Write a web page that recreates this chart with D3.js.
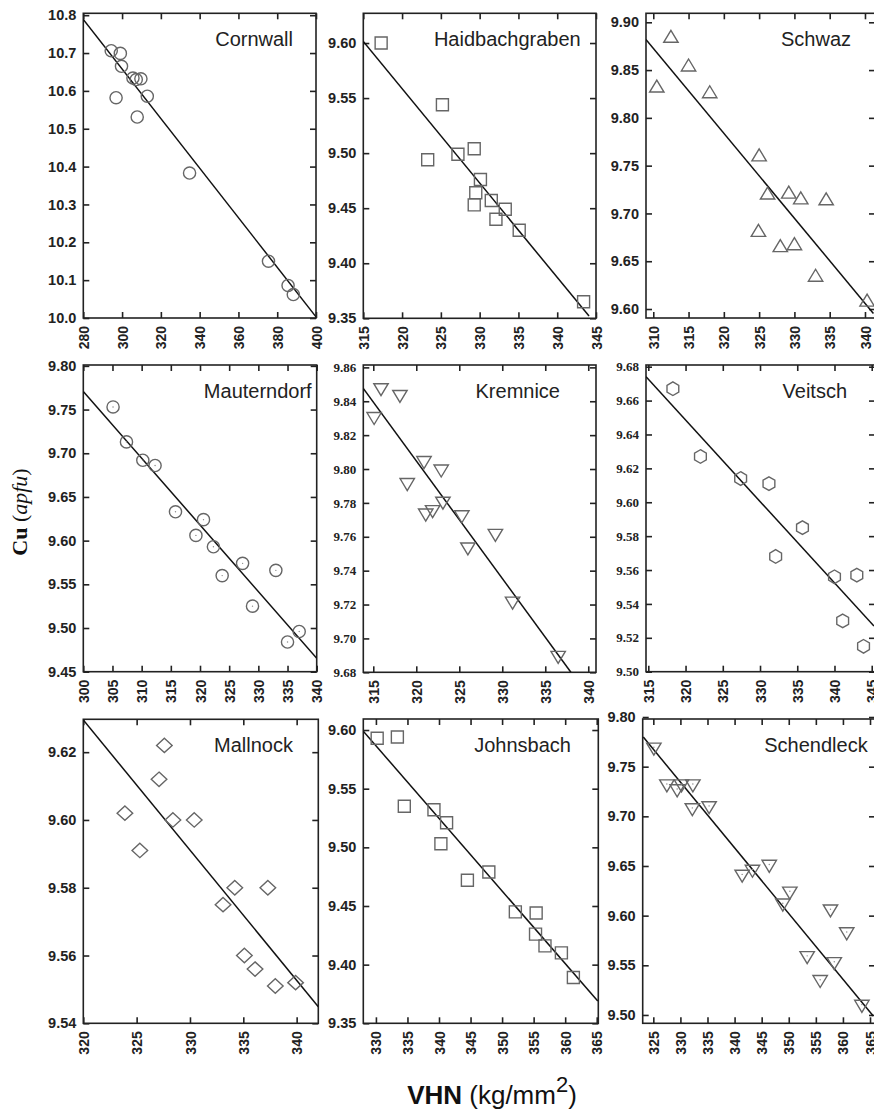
<!DOCTYPE html>
<html>
<head>
<meta charset="utf-8">
<script src="https://cdn.jsdelivr.net/npm/d3@7"></script>
<style>
  body { margin: 0; background: #fff; }
  svg { display: block; }
</style>
</head>
<body>
<svg id="chart"></svg>
<script>
// one panel per locality, read left to right, top to bottom
const sites = ["Cornwall", "Haidbachgraben", "Schwaz", "Mauterndorf", "Kremnice", "Veitsch", "Mallnock", "Johnsbach", "Schendleck"];

const cornwallVHN = [294.4, 299.1, 299.7, 296.9, 305.6, 307.3, 309.7, 313.0, 307.8, 334.8, 375.5, 385.6, 388.3];
const cornwallCu  = [10.706, 10.699, 10.665, 10.582, 10.634, 10.630, 10.632, 10.586, 10.531, 10.383, 10.150, 10.086, 10.062];

const haidVHN = [317.3, 325.2, 323.3, 327.2, 329.3, 330.1, 329.5, 329.3, 331.5, 333.3, 332.1, 335.1, 343.4];
const haidCu  = [9.600, 9.544, 9.494, 9.499, 9.504, 9.476, 9.464, 9.453, 9.457, 9.449, 9.440, 9.430, 9.365];

const schwazVHN = [312.5, 310.5, 315.0, 318.0, 325.0, 324.9, 326.2, 329.2, 330.9, 334.5, 328.0, 330.0, 333.0, 340.3];
const schwazCu  = [9.885, 9.833, 9.855, 9.827, 9.761, 9.682, 9.721, 9.722, 9.716, 9.715, 9.666, 9.668, 9.635, 9.609];

const mauternVHN = [305.1, 307.4, 310.2, 312.3, 315.8, 320.6, 319.3, 322.3, 323.8, 327.3, 333.0, 329.0, 335.0, 337.0];
const mauternCu  = [9.753, 9.713, 9.692, 9.686, 9.633, 9.624, 9.606, 9.593, 9.560, 9.574, 9.566, 9.525, 9.484, 9.496];

const kremniceVHN = [315.9, 318.1, 315.1, 318.95, 320.9, 322.9, 321.1, 321.9, 323.1, 325.3, 329.2, 326.0, 331.2, 336.5];
const kremniceCu  = [9.847, 9.843, 9.830, 9.791, 9.804, 9.799, 9.773, 9.775, 9.780, 9.772, 9.761, 9.753, 9.721, 9.689];

const veitschVHN = [318.3, 322.0, 327.4, 331.2, 335.7, 332.1, 340.0, 343.0, 341.1, 343.9];
const veitschCu  = [9.667, 9.627, 9.614, 9.611, 9.585, 9.568, 9.556, 9.557, 9.530, 9.515];

const mallnockVHN = [327.6, 327.1, 323.9, 325.3, 328.4, 330.4, 333.1, 334.2, 337.3, 335.1, 336.1, 338.0, 339.9];
const mallnockCu  = [9.622, 9.612, 9.602, 9.591, 9.600, 9.600, 9.575, 9.580, 9.580, 9.560, 9.556, 9.551, 9.552];

const johnsbachVHN = [330.2, 333.4, 334.5, 339.2, 341.2, 340.3, 344.5, 347.9, 352.1, 355.4, 355.3, 356.8, 359.4, 361.3];
const johnsbachCu  = [9.593, 9.594, 9.535, 9.532, 9.521, 9.503, 9.472, 9.479, 9.445, 9.444, 9.426, 9.416, 9.410, 9.389];

const schendleckVHN = [325.1, 327.5, 329.4, 330.2, 332.3, 332.2, 335.3, 341.4, 343.3, 346.4, 348.9, 350.2, 357.7, 360.7, 353.4, 355.8, 358.4, 363.5];
const schendleckCu  = [9.768, 9.731, 9.726, 9.731, 9.731, 9.707, 9.709, 9.640, 9.645, 9.650, 9.611, 9.623, 9.605, 9.582, 9.558, 9.534, 9.552, 9.509];

const allVHN = [cornwallVHN, haidVHN, schwazVHN, mauternVHN, kremniceVHN, veitschVHN, mallnockVHN, johnsbachVHN, schendleckVHN];
const allCu = [cornwallCu, haidCu, schwazCu, mauternCu, kremniceCu, veitschCu, mallnockCu, johnsbachCu, schendleckCu];

// regression line end points (VHN, Cu)
const fitVHN = [[280, 400], [315, 344.1], [308.96, 341.2], [300, 340], [313.84, 337.98], [314.7, 345.3], [320, 342.03], [328, 365.16], [323.15, 365.6]];
const fitCu = [[10.789, 10.003], [9.6015, 9.352], [9.882, 9.5954], [9.7706, 9.4653], [9.8476, 9.68], [9.6741, 9.5269], [9.6295, 9.5449], [9.599, 9.369], [9.7798, 9.4989]];

// axis ranges and ticks
const xDomains = [[280, 400], [315, 345], [308.97, 341.42], [300, 340], [313.84, 340.9], [314.69, 345.44], [320, 342.03], [328, 365.25], [323.04, 365.92]];
const yDomains = [[10.0, 10.805], [9.35, 9.627], [9.5906, 9.9094], [9.45, 9.801], [9.68, 9.8614], [9.50, 9.681], [9.54, 9.6297], [9.35, 9.6094], [9.4916, 9.798]];
const xTickValues = [
  [280, 300, 320, 340, 360, 380, 400],
  [315, 320, 325, 330, 335, 340, 345],
  [310, 315, 320, 325, 330, 335, 340],
  [300, 305, 310, 315, 320, 325, 330, 335, 340],
  [315, 320, 325, 330, 335, 340],
  [315, 320, 325, 330, 335, 340, 345],
  [320, 325, 330, 335, 340],
  [330, 335, 340, 345, 350, 355, 360, 365],
  [325, 330, 335, 340, 345, 350, 355, 360, 365]
];
const yTickValues = [
  [10.0, 10.1, 10.2, 10.3, 10.4, 10.5, 10.6, 10.7, 10.8],
  [9.35, 9.40, 9.45, 9.50, 9.55, 9.60],
  [9.60, 9.65, 9.70, 9.75, 9.80, 9.85, 9.90],
  [9.45, 9.50, 9.55, 9.60, 9.65, 9.70, 9.75, 9.80],
  [9.68, 9.70, 9.72, 9.74, 9.76, 9.78, 9.80, 9.82, 9.84, 9.86],
  [9.50, 9.52, 9.54, 9.56, 9.58, 9.60, 9.62, 9.64, 9.66, 9.68],
  [9.54, 9.56, 9.58, 9.60, 9.62],
  [9.35, 9.40, 9.45, 9.50, 9.55, 9.60],
  [9.50, 9.55, 9.60, 9.65, 9.70, 9.75, 9.80]
];
const yTickFormats = [".1f", ".2f", ".2f", ".2f", ".2f", ".2f", ".2f", ".2f", ".2f"];

const markers = ["circle", "square", "triUp", "dotCircle", "triDown", "hexagon", "diamond", "square", "dotTriDown"];

// layout: plot boxes [left, top, right, bottom] and title end x
const boxes = [
  [83.3, 13.3, 316, 318], [363.3, 13.3, 596, 318.3], [646, 13.3, 875, 318],
  [83.3, 365, 316.7, 671.7], [363.3, 365, 596, 672.3], [646, 365, 875, 671.7],
  [83.3, 719.3, 318.3, 1023.3], [363.3, 719, 598.3, 1023.3], [642.7, 719, 875, 1023.3]
];
const titleEnd = [293, 580.7, 851, 311.7, 560, 847, 293, 571, 867.7];
const serifTicks = [false, false, false, false, true, true, false, false, false];

const width = 874, height = 1111;
const svg = d3.select("#chart")
              .attr("width", width)
              .attr("height", height)
              .style("font-family", "'Liberation Sans', Arial, sans-serif");

function markerPath(shape) {
  var p = d3.path();
  if (shape === "square" ) {
    p.rect(-6, -6, 12, 12);
  } else if (shape === "triUp") {
    p.moveTo(0, -6.3); p.lineTo(7.2, 5.7); p.lineTo(-7.2, 5.7); p.closePath();
  } else if (shape === "triDown" || shape === "dotTriDown") {
    p.moveTo(0, 6.3); p.lineTo(7.2, -5.7); p.lineTo(-7.2, -5.7); p.closePath();
  } else if (shape === "hexagon") {
    for (var k = 0; k < 6; k++) {
      var a = Math.PI / 3 * k - Math.PI / 2;
      var px = 6.8 * Math.cos(a), py = 6.8 * Math.sin(a);
      if (k === 0) p.moveTo(px, py); else p.lineTo(px, py);
    }
    p.closePath();
  } else if (shape === "diamond") {
    p.moveTo(0, -7.2); p.lineTo(7.8, 0); p.lineTo(0, 7.2); p.lineTo(-7.8, 0); p.closePath();
  } else {
    p.arc(0, 0, 6.1, 0, 2 * Math.PI);
  }
  return p.toString();
}

function drawPanel(i) {
  var b = boxes[i];
  var x = d3.scaleLinear().domain(xDomains[i]).range([b[0], b[2]]);
  var y = d3.scaleLinear().domain(yDomains[i]).range([b[3], b[1]]);
  var g = svg.append("g").classed("panel", true);

  g.append("clipPath")
      .attr("id", "clip" + i)
    .append("rect")
      .attr("x", b[0]).attr("y", b[1])
      .attr("width", b[2] - b[0]).attr("height", b[3] - b[1]);

  // frame
  g.append("rect")
      .attr("x", b[0]).attr("y", b[1])
      .attr("width", b[2] - b[0]).attr("height", b[3] - b[1])
      .attr("fill", "none")
      .attr("stroke", "#222")
      .attr("stroke-width", 1.6);

  // inward ticks on all four sides
  var bottom = g.append("g")
      .attr("transform", "translate(0," + b[3] + ")")
      .call(d3.axisBottom(x).tickValues(xTickValues[i]).tickSizeInner(-6).tickSizeOuter(0).tickFormat(d3.format("d")));
  bottom.selectAll("text")
      .attr("transform", "rotate(-90)")
      .attr("x", -8)
      .attr("y", 0)
      .attr("dy", "0.36em")
      .style("text-anchor", "end")
      .attr("font-size", 14)
      .attr("font-weight", "bold")
      .attr("font-family", "'Liberation Sans', Arial, sans-serif")
      .attr("fill", "#222");

  g.append("g")
      .attr("transform", "translate(0," + b[1] + ")")
      .call(d3.axisTop(x).tickValues(xTickValues[i]).tickSizeInner(-6).tickSizeOuter(0).tickFormat(""));

  var left = g.append("g")
      .attr("transform", "translate(" + b[0] + ",0)")
      .call(d3.axisLeft(y).tickValues(yTickValues[i]).tickSizeInner(-6).tickSizeOuter(0)
              .tickPadding(7).tickFormat(d3.format(yTickFormats[i])));
  left.selectAll("text")
      .attr("font-size", serifTicks[i] ? 13 : 14.5)
      .attr("font-weight", "bold")
      .attr("font-family", serifTicks[i] ? "'Liberation Serif', 'Times New Roman', serif" : "'Liberation Sans', Arial, sans-serif")
      .attr("fill", "#222");

  g.append("g")
      .attr("transform", "translate(" + b[2] + ",0)")
      .call(d3.axisRight(y).tickValues(yTickValues[i]).tickSizeInner(-6).tickSizeOuter(0).tickFormat(""));

  g.selectAll(".domain").remove();
  g.selectAll(".tick line")
      .attr("stroke", "#222")
      .attr("stroke-width", 1.6);

  // regression line
  var lineData = d3.zip(fitVHN[i], fitCu[i]);
  g.append("path")
      .datum(lineData)
      .attr("clip-path", "url(#clip" + i + ")")
      .attr("fill", "none")
      .attr("stroke", "#111")
      .attr("stroke-width", 1.5)
      .attr("d", d3.line().x(d => x(d[0])).y(d => y(d[1])));

  // points
  var pts = d3.zip(allVHN[i], allCu[i]);
  var shape = markers[i];
  var mk = g.append("g")
      .attr("clip-path", "url(#clip" + i + ")")
    .selectAll(".pt")
    .data(pts)
    .enter()
    .append("g")
      .classed("pt", true)
      .attr("transform", d => "translate(" + x(d[0]) + "," + y(d[1]) + ")");

  mk.append("path")
      .attr("d", markerPath(shape))
      .attr("fill", "none")
      .attr("stroke", "#666")
      .attr("stroke-width", 1.4);

  if (shape === "dotCircle" || shape === "dotTriDown") {
    mk.append("circle")
        .attr("cy", shape === "dotTriDown" ? -1.5 : 0)
        .attr("r", 0.7)
        .attr("fill", "#888");
  }

  // locality name
  g.append("text")
      .attr("x", titleEnd[i])
      .attr("y", b[1] + 33)
      .attr("font-size", 20)
      .attr("fill", "#222")
      .style("text-anchor", "end")
      .text(sites[i]);
}

for (var i = 0; i < sites.length; i++) {
  drawPanel(i);
}

// shared axis titles
var yTitle = svg.append("text")
    .attr("transform", "translate(27,512) rotate(-90)")
    .style("text-anchor", "middle")
    .attr("font-family", "'Liberation Serif', 'Times New Roman', serif")
    .attr("font-size", 22)
    .attr("fill", "#111");
yTitle.append("tspan").attr("font-weight", "bold").text("Cu ");
yTitle.append("tspan").text("(");
yTitle.append("tspan").attr("font-style", "italic").text("apfu");
yTitle.append("tspan").text(")");

var xTitle = svg.append("text")
    .attr("x", 492)
    .attr("y", 1104)
    .style("text-anchor", "middle")
    .attr("font-size", 26)
    .attr("fill", "#111");
xTitle.append("tspan").attr("font-weight", "bold").text("VHN");
xTitle.append("tspan").text(" (kg/mm");
xTitle.append("tspan").attr("dy", -12).attr("font-size", 22).text("2");
xTitle.append("tspan").attr("dy", 12).text(")");
</script>
</body>
</html>
